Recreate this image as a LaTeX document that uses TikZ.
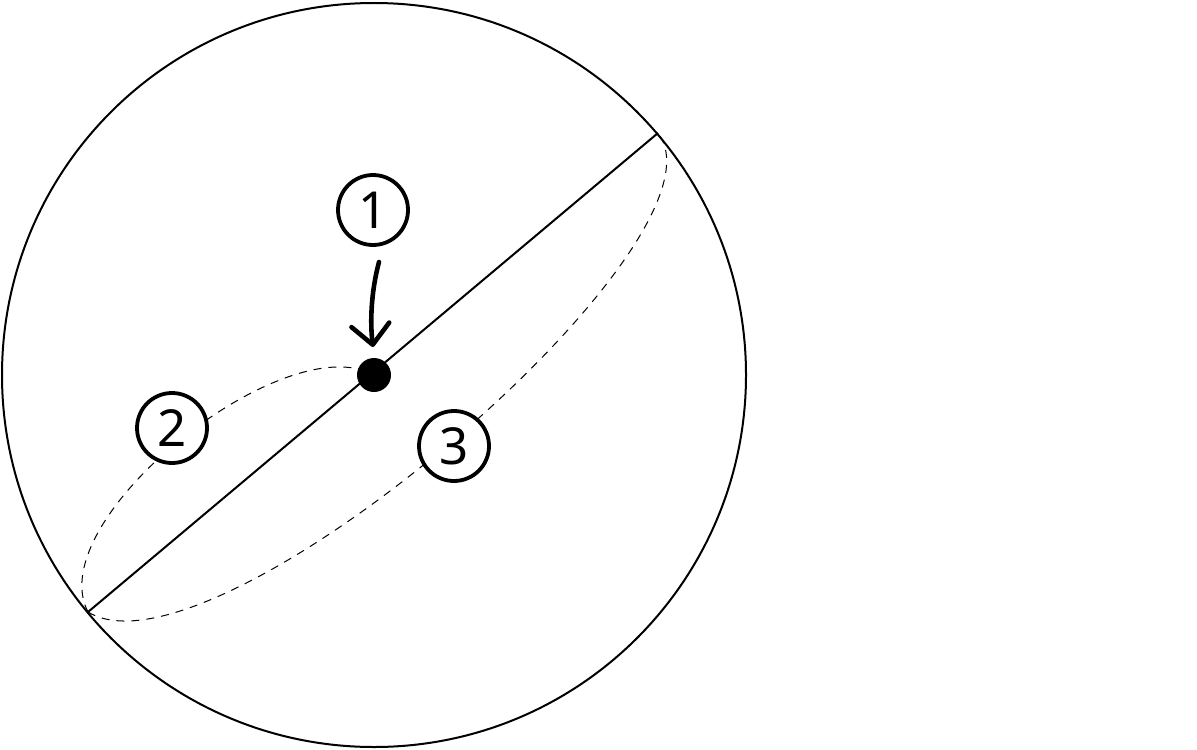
\documentclass[tikz,border=0pt]{standalone}
\usepackage{fontspec}
\setmainfont{Noto Sans}
\usetikzlibrary{arrows.meta}
\begin{document}
\begin{tikzpicture}[x=0.5pt,y=-0.5pt,
  label/.style={circle,draw,line width=1.9pt,fill=white,minimum size=35pt,inner sep=0pt,font=\fontsize{25.5}{30}\selectfont},
  dashedarc/.style={line width=0.5pt,dash pattern=on 4pt off 3.5pt},
  dotnode/.style={circle,fill=black,minimum size=17pt,inner sep=0pt}]
\useasboundingbox (0,0) rectangle (1197,749);
\coordinate (c) at (374,375);
\coordinate (a) at (88,612);
\coordinate (e) at (658,133);
\draw[line width=1pt] (c) circle[radius=186pt];
\draw[dashedarc] (a) .. controls (40,520) and (285,325) .. (c);
\draw[dashedarc] (a) .. controls (215,690) and (740,240) .. (e);
\draw[line width=1pt] (a) -- (e);
\node[dotnode] (dot) at (c) {};
\node[label] (n1) at (373,210) {1};
\node[label] (n2) at (172,428) {2};
\node[label] (n3) at (454,446) {3};
\coordinate (as) at (379,262);
\coordinate (at) at (373,347);
\draw[line width=2.3pt,line cap=round,line join=round,-{Straight Barb[length=10pt,width=19pt,line cap=round,line join=round]}]
  (as) .. controls (371,292) and (370,322) .. (at);
\end{tikzpicture}
\end{document}
